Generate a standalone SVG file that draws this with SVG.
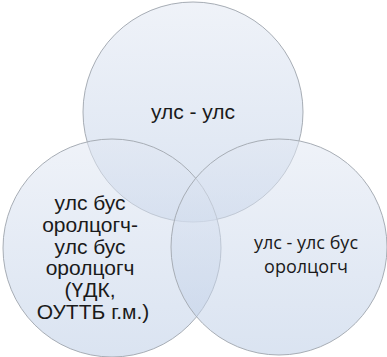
<svg xmlns="http://www.w3.org/2000/svg" width="387" height="357" viewBox="0 0 387 357">
  <defs>
    <linearGradient id="g" x1="0" y1="0" x2="0" y2="1">
      <stop offset="0" stop-color="#e2e8f3"/>
      <stop offset="1" stop-color="#bccde6"/>
    </linearGradient>
    <style>
      .c { fill: url(#g); fill-opacity: 0.55; stroke: #a7adb5; stroke-width: 1; }
      .t { font-family: "Liberation Sans", Arial, sans-serif; font-size: 21px; fill: #1a1a1a; text-anchor: middle; }
      .r { font-family: "Open Sans", "Noto Sans", sans-serif; font-size: 18px; fill: #1a1a1a; text-anchor: middle; }
    </style>
  </defs>
  <rect width="387" height="357" fill="#ffffff"/>
  <g id="top">
    <circle class="c" cx="193" cy="112" r="110"/>
    <text class="t" x="193" y="119" font-size="22">улс - улс</text>
  </g>
  <g id="left">
    <circle class="c" cx="112" cy="248" r="109"/>
    <text class="t" x="93" font-size="20">
      <tspan x="93" y="210">улс бус</tspan>
      <tspan x="93" y="231.8">оролцогч-</tspan>
      <tspan x="93" y="253.6">улс бус</tspan>
      <tspan x="93" y="275.4">оролцогч</tspan>
      <tspan x="93" y="297.2">(ҮДК,</tspan>
      <tspan x="93" y="319">ОУТТБ г.м.)</tspan>
    </text>
  </g>
  <g id="right">
    <circle class="c" cx="279" cy="247" r="108"/>
    <text class="r" x="306" y="249">улс - улс бус</text>
    <text class="r" x="306" y="273">оролцогч</text>
  </g>
  <g id="connectors"/>
</svg>
